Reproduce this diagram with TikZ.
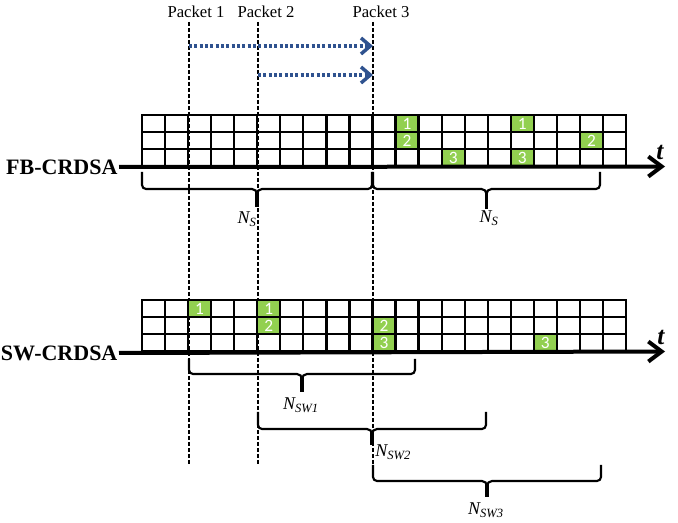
\documentclass[tikz,border=0pt]{standalone}
\usepackage{fontspec}
\setmainfont{Liberation Serif}
\newfontfamily\cellfont{Carlito}
\usetikzlibrary{positioning,arrows.meta}
\usepackage{xcolor}
\definecolor{SlotGreen}{RGB}{146,208,80}
\definecolor{ShiftBlue}{RGB}{47,82,143}

% brace under a frame: #1 left x, #2 right x, #3 top y, #4 bar y, #5 tip y
\newcommand{\framebrace}[5]{%
  \pgfmathsetmacro{\bmid}{(#1+#2)/2}%
  \coordinate (bl) at (#1,#3);
  \coordinate (br) at (#2,#3);
  \coordinate (bm) at (\bmid,#4+5);
  \draw[curly] (bl) -- (#1,#4-4) to[out=-90,in=180] (#1+4,#4)
    -- (\bmid-5,#4) to[out=0,in=90] (bm)
    to[out=90,in=180] (\bmid+5,#4) -- (#2-4,#4)
    to[out=0,in=-90] (#2,#4-4) -- (br);
  \draw[tipline] (\bmid,#4+3) -- (\bmid,#5);
}

\begin{document}
\begin{tikzpicture}[
x=0.75pt,y=-0.75pt,
slot/.style={
rectangle,
fill=SlotGreen,
inner sep=0pt,
minimum width=17.3pt,
minimum height=12.75pt,
text=white,
font=\cellfont\fontsize{13}{13}\selectfont
},
gridline/.style={line width=1.7pt,line cap=rect},
axis/.style={
-{Straight Barb[length=10pt,width=15pt]},
line width=3pt
},
guide/.style={dash pattern=on 3pt off 1.5pt,line width=1pt},
shiftarrow/.style={
-{Straight Barb[length=7pt,width=12pt,line width=2.6pt]},
dash pattern=on 2.2pt off 1.8pt,
line width=2.5pt,
draw=ShiftBlue
},
curly/.style={line width=1.6pt},
tipline/.style={line width=2.8pt},
pktlabel/.style={font=\fontsize{12.5}{14}\selectfont,inner sep=0pt},
schemelabel/.style={font=\bfseries\fontsize{16.5}{18}\selectfont,inner sep=1pt,anchor=east},
tlabel/.style={font=\bfseries\itshape\fontsize{19}{19}\selectfont,inner sep=0pt},
nlabel/.style={font=\itshape\fontsize{13.5}{14}\selectfont,inner sep=0pt}
]
\useasboundingbox (0,0) rectangle (678,523);

% packets and guide lines
\node[pktlabel] (pk1) at (196,12) {Packet 1};
\node[pktlabel] (pk2) at (266,12) {Packet 2};
\node[pktlabel] (pk3) at (381,12) {Packet 3};
\coordinate (g1top) at (189,22);
\coordinate (g1bot) at (189,465);
\coordinate (g2top) at (258,22);
\coordinate (g2bot) at (258,465);
\coordinate (g3top) at (373,22);
\coordinate (g3bot) at (373,465);
\draw[guide] (g1top) -- (g1bot);
\draw[guide] (g2top) -- (g2bot);
\draw[guide] (g3top) -- (g3bot);

\coordinate (s1) at (189,46);
\coordinate (s1end) at (373,46);
\coordinate (s2) at (258,75);
\coordinate (s2end) at (373,75);
\draw[shiftarrow] (s1) -- (s1end);
\draw[shiftarrow] (s2) -- (s2end);

% FB-CRDSA frame
\foreach \k/\r in {11/1,11/2,13/3,16/1,16/3,19/2}
  \node[slot] (fb-\k-\r) at ({142+23.05*(\k+0.5)},{115+17*(\r-0.5)}) {\r};
\foreach \k in {0,...,21}
  \draw[gridline] ({142+23.05*\k},115) -- ({142+23.05*\k},166);
\foreach \r in {0,...,3}
  \draw[gridline] (142,{115+17*\r}) -- (626,{115+17*\r});

\node[schemelabel] (fb) at (119,167) {FB-CRDSA};
\coordinate (fbend) at (665,166.5);
\draw[axis] (fb.east) -- (fbend);
\node[tlabel] (fbt) at (660,152) {t};

\framebrace{142}{372}{172}{189}{207}
\framebrace{373}{600}{172}{189}{209}
\node[nlabel] (ns1) at (247,219) {N\textsubscript{S}};
\node[nlabel] (ns2) at (489,218) {N\textsubscript{S}};

% SW-CRDSA frame
\foreach \k/\r in {2/1,5/1,5/2,10/2,10/3,17/3}
  \node[slot] (sw-\k-\r) at ({142+23.05*(\k+0.5)},{300+17*(\r-0.5)}) {\r};
\foreach \k in {0,...,21}
  \draw[gridline] ({142+23.05*\k},300) -- ({142+23.05*\k},351);
\foreach \r in {0,...,3}
  \draw[gridline] (142,{300+17*\r}) -- (626,{300+17*\r});

\node[schemelabel] (sw) at (119,353) {SW-CRDSA};
\coordinate (swend) at (665,351.5);
\draw[axis] (sw.east) -- (swend);
\node[tlabel] (swt) at (661,337) {t};

\framebrace{189}{415}{359}{374}{392}
\framebrace{258}{486}{412}{429}{445}
\framebrace{373}{601}{465}{481}{497}
\node[nlabel] (nsw1) at (301,405) {N\textsubscript{SW1}};
\node[nlabel,anchor=west] (nsw2) at (375,452) {N\textsubscript{SW2}};
\node[nlabel] (nsw3) at (486,510) {N\textsubscript{SW3}};

\end{tikzpicture}
\end{document}
